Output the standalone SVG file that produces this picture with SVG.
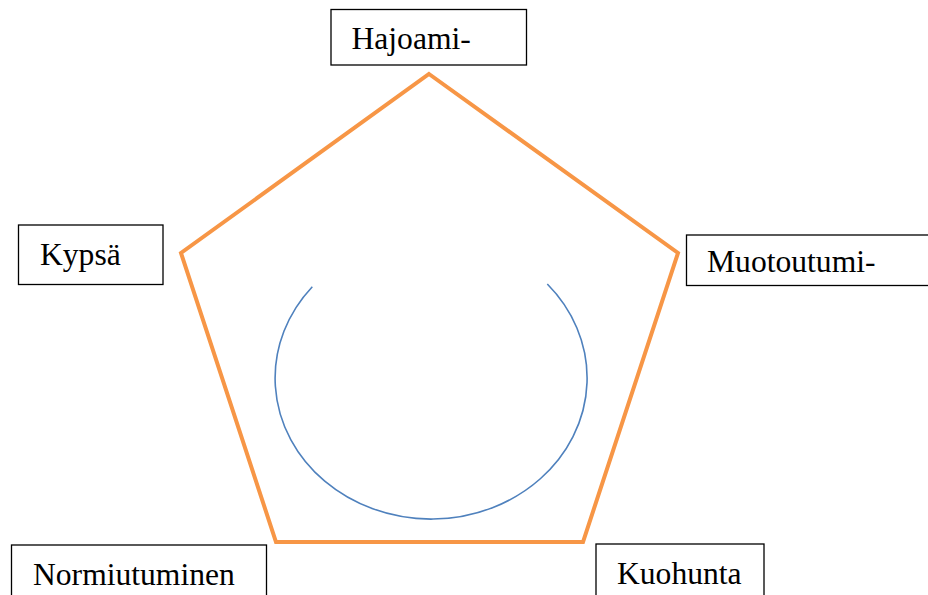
<svg xmlns="http://www.w3.org/2000/svg" width="928" height="595" viewBox="0 0 928 595">
<style>
.box{fill:#fff;stroke:#000;stroke-width:1.3}
.lbl{font-family:"Liberation Serif","Times New Roman",serif;font-size:31.6px;fill:#000}
</style>
<rect width="928" height="595" fill="#fff"/>
<g id="connectors">
<polygon points="429,74 678,253 583,542 276,542 181,253" fill="none" stroke="#F79646" stroke-width="4" stroke-linejoin="miter"/>
<path d="M312.3,286.7 A156,141 0 1 0 547.3,284" fill="none" stroke="#4F81BD" stroke-width="1.6"/>
</g>
<g id="hajoami"><rect class="box" x="331" y="9.5" width="195.5" height="55.5"/><text class="lbl" x="351.5" y="48.5">Hajoami-</text></g>
<g id="kypsa"><rect class="box" x="18.5" y="225" width="144.5" height="59.5"/><text class="lbl" x="40" y="265">Kypsä</text></g>
<g id="muotoutumi"><rect class="box" x="686.5" y="235" width="250" height="50.5"/><text class="lbl" x="707" y="272">Muotoutumi-</text></g>
<g id="normiutuminen"><rect class="box" x="11.5" y="545" width="255" height="60"/><text class="lbl" x="33" y="585">Normiutuminen</text></g>
<g id="kuohunta"><rect class="box" x="596" y="544" width="168" height="60"/><text class="lbl" x="617" y="584">Kuohunta</text></g>
</svg>
